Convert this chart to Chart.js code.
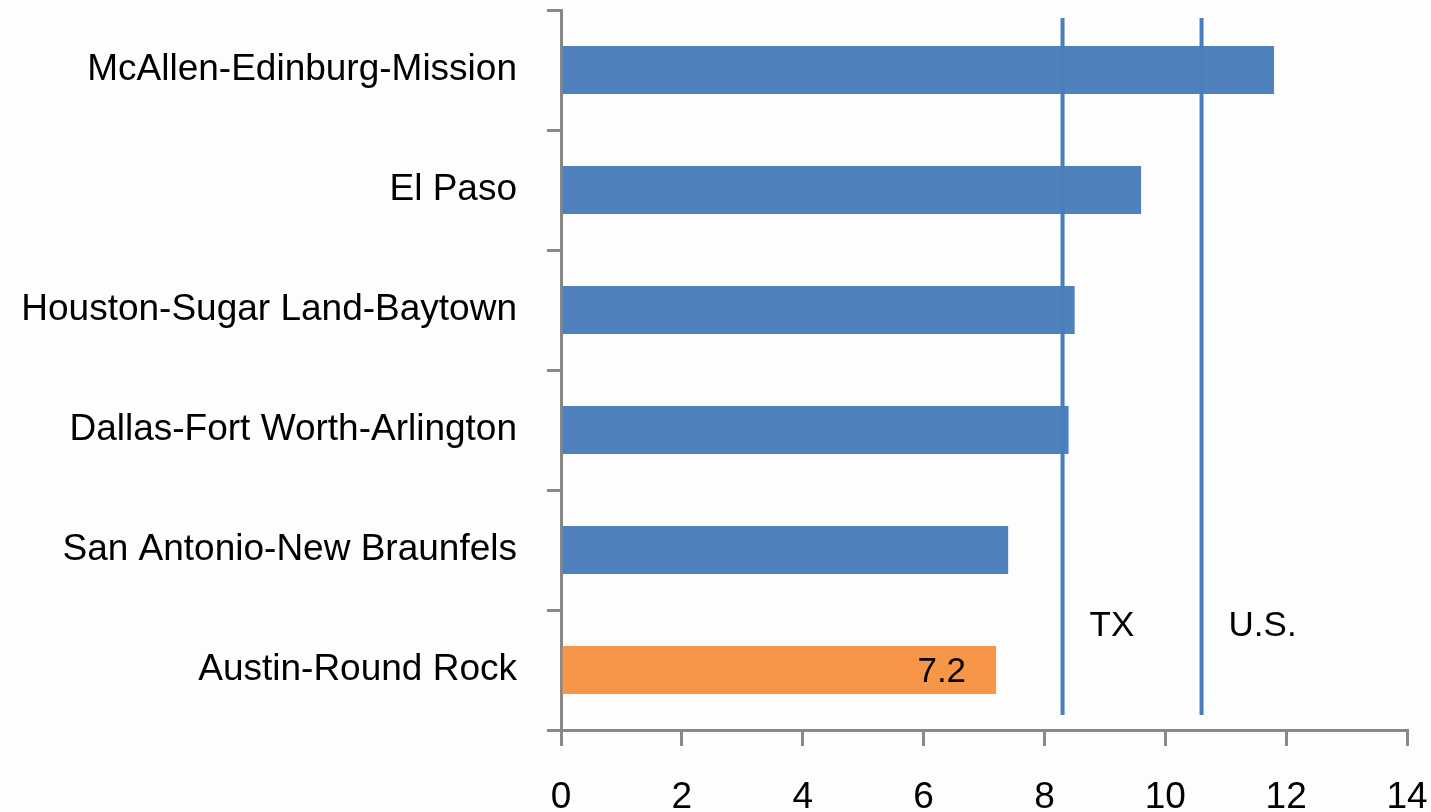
<!DOCTYPE html>
<html>
<head>
<meta charset="utf-8">
<script src="https://cdn.jsdelivr.net/npm/chart.js@4/dist/chart.umd.min.js"></script>
<style>
  html, body { margin: 0; padding: 0; background: #fdfdfd; }
  #wrap { width: 1431px; height: 812px; }
</style>
</head>
<body>
<div id="wrap"><canvas id="c" width="1431" height="812"></canvas></div>
<script>
const metros = ['McAllen-Edinburg-Mission', 'El Paso', 'Houston-Sugar Land-Baytown',
  'Dallas-Fort Worth-Arlington', 'San Antonio-New Braunfels', 'Austin-Round Rock'];
const rates = [11.8, 9.6, 8.5, 8.4, 7.4, 7.2];
const barColors = ['#4f81bd', '#4f81bd', '#4f81bd', '#4f81bd', '#4f81bd', '#f79646'];
const refNames = ['TX', 'U.S.'];
const refValues = [8.3, 10.6];
const xTicks = [0, 2, 4, 6, 8, 10, 12, 14];

const fontFamily = '"Liberation Sans", Arial, sans-serif';

// vertical reference lines + labels, plus the value label on the last bar
const extras = {
  id: 'extras',
  afterDatasetsDraw(chart) {
    const ctx = chart.ctx;
    const x = chart.scales.x;
    const area = chart.chartArea;
    ctx.save();
    refValues.forEach((v, i) => {
      const px = x.getPixelForValue(v);
      ctx.strokeStyle = '#4a7ebb';
      ctx.lineWidth = 4;
      ctx.beginPath();
      ctx.moveTo(px, area.top + 8);
      ctx.lineTo(px, area.bottom - 15);
      ctx.stroke();
      ctx.fillStyle = '#000';
      ctx.font = '35px ' + fontFamily;
      ctx.textAlign = 'left';
      ctx.textBaseline = 'middle';
      ctx.fillText(refNames[i], px + 27, 626);
    });
    const bars = chart.getDatasetMeta(0).data;
    const last = bars[bars.length - 1];
    ctx.font = '35px ' + fontFamily;
    ctx.textAlign = 'right';
    ctx.textBaseline = 'middle';
    ctx.fillStyle = '#000';
    ctx.fillText(String(rates[rates.length - 1]), last.x - 30, last.y + 2);
    ctx.restore();
  }
};

new Chart(document.getElementById('c').getContext('2d'), {
  type: 'bar',
  data: {
    labels: metros,
    datasets: [{
      data: rates,
      backgroundColor: barColors,
      borderWidth: 0,
      barPercentage: 0.4,
      categoryPercentage: 1.0,
    }]
  },
  options: {
    indexAxis: 'y',
    responsive: false,
    animation: false,
    layout: { padding: { top: 10, right: 24, left: 0, bottom: 0 } },
    plugins: {
      legend: { display: false },
      tooltip: { enabled: false },
    },
    scales: {
      x: {
        min: 0,
        max: 14,
        afterBuildTicks: (axis) => { axis.ticks = xTicks.map(v => ({ value: v })); },
        afterFit: (axis) => { axis.height = 82; axis.paddingLeft = 0; axis.paddingRight = 0; },
        grid: { drawOnChartArea: false, tickLength: 16, color: '#888', lineWidth: 3 },
        border: { color: '#888', width: 3 },
        ticks: {
          color: '#000',
          padding: 30,
          font: { size: 37, family: fontFamily },
          maxRotation: 0,
        },
      },
      y: {
        afterFit: (axis) => { axis.width = 561; axis.paddingTop = 0; axis.paddingBottom = 0; },
        grid: { drawOnChartArea: false, tickLength: 14, color: '#888', lineWidth: 3, offset: true },
        border: { color: '#888', width: 3 },
        ticks: {
          color: '#000',
          padding: 30,
          font: { size: 37, family: fontFamily },
        },
      }
    }
  },
  plugins: [extras]
});
</script>
</body>
</html>
